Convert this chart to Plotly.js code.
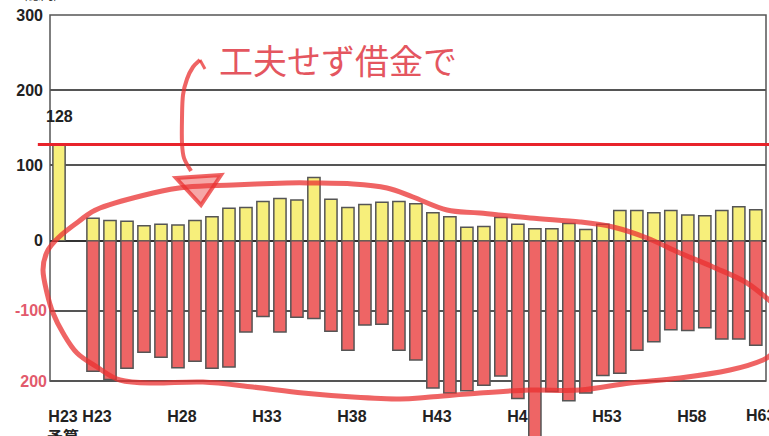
<!DOCTYPE html>
<html>
<head>
<meta charset="utf-8">
<script src="https://cdn.plot.ly/plotly-3.0.1.min.js"></script>
<style>
  html, body { margin: 0; padding: 0; background: #ffffff; }
  #chart { width: 769px; height: 436px; }
</style>
</head>
<body>
<div id="chart"></div>
<script>
// 予算額（H23予算）
const budgetLabel = "H23<br>予算";
const budgetValue = 128;

// 年度
const years = [
  "H23","H24","H25","H26","H27","H28","H29","H30","H31","H32",
  "H33","H34","H35","H36","H37","H38","H39","H40","H41","H42",
  "H43","H44","H45","H46","H47","H48","H49","H50","H51","H52",
  "H53","H54","H55","H56","H57","H58","H59","H60","H61","H62"
];

// プラス側（黄）
const positive = [
  30, 27, 26, 20, 22, 21, 27, 32, 43, 44,
  52, 56, 54, 84, 55, 44, 48, 51, 52, 49,
  37, 32, 18, 19, 31, 22, 16, 16, 23, 15,
  22, 40, 40, 37, 40, 34, 33, 40, 45, 41
];

// マイナス側（赤）
const negative = [
  -186, -198, -182, -159, -166, -181, -172, -182, -180, -130,
  -108, -130, -109, -111, -129, -156, -120, -119, -156, -170,
  -210, -217, -214, -206, -193, -225, -300, -215, -228, -217,
  -192, -189, -156, -144, -127, -128, -124, -140, -140, -149
];

// 目盛りに表示する年度
const labeledYears = ["H23","H28","H33","H38","H43","H48","H53","H58"];
const edgeLabel = "H63";
const unitLabel = "(億円)";
const message = "工夫せず借金で";

// 横位置: 予算は0番、1つ空けて年度を2番から並べる
const budgetSlot = 0;
const yearSlot = i => i + 2;
const yearX = years.map((_, i) => yearSlot(i));

const W = 769, H = 436;
const margin = { l: 50, r: 3, t: 15, b: 0 };
const plotW = W - margin.l - margin.r;
const plotH = H - margin.t - margin.b;
const xRange = [-0.53, 41.6];

// 縦方向の配置（ピクセル）: 0 の線、-200 の線（枠の下端）
const zeroPx = 240.7;
const floorPx = 381;
const toPaperY = py => (H - margin.b - py) / plotH;
const split = toPaperY(zeroPx);
const floorPos = toPaperY(floorPx);
// 下側の軸は -200 が枠の下端に来るように、はみ出す棒の分だけ範囲を広げる
const lowerMin = -200 * (H - margin.b - zeroPx) / (floorPx - zeroPx);

const tickvals = [budgetSlot].concat(labeledYears.map(y => yearSlot(years.indexOf(y))));
const ticktext = [budgetLabel].concat(labeledYears);

const labelFont = { family: "Liberation Sans, Arial, Noto Sans CJK JP, sans-serif", size: 16, color: "#222", weight: "bold" };
const pinkFont = Object.assign({}, labelFont, { color: "#e25a6c" });

// 手書き風の線: ピクセル座標 → paper 座標
const px = (x, y) => [(x - margin.l) / plotW, toPaperY(y)];
function smoothPath(pts, closed) {
  const p = pts.map(q => px(q[0], q[1]));
  const n = p.length;
  const get = i => closed ? p[(i + n) % n] : p[Math.max(0, Math.min(n - 1, i))];
  let d = `M${p[0][0]},${p[0][1]}`;
  const last = closed ? n : n - 1;
  for (let i = 0; i < last; i++) {
    const p0 = get(i - 1), p1 = get(i), p2 = get(i + 1), p3 = get(i + 2);
    const c1 = [p1[0] + (p2[0] - p0[0]) / 6, p1[1] + (p2[1] - p0[1]) / 6];
    const c2 = [p2[0] - (p3[0] - p1[0]) / 6, p2[1] - (p3[1] - p1[1]) / 6];
    d += ` C${c1[0]},${c1[1]} ${c2[0]},${c2[1]} ${p2[0]},${p2[1]}`;
  }
  return closed ? d + " Z" : d;
}
function polyPath(pts) {
  return pts.map((q, i) => {
    const p = px(q[0], q[1]);
    return (i ? "L" : "M") + p[0] + "," + p[1];
  }).join(" ") + " Z";
}

const loopStroke = [
  [776,350],[763,360],[730,370],[680,378],[630,383],[580,390],[530,390],[480,393],
  [430,397],[400,399],[353,397],[303,393],[253,387],[203,382],[153,383],[120,380],
  [97,367],[77,353],[63,333],[53,313],[47,293],[43,270],[47,252],[58,238],[78,222],
  [100,208],[153,193],[187,187],[233,185],[287,183],[313,183],[353,184],[387,188],
  [413,197],[447,210],[480,213],[530,218],[580,222],[613,227],[647,238],[680,253],
  [713,267],[747,283],[776,306]
];
const arrowStroke = [[200,60],[193,67],[187,79],[183,95],[182,118],[182,143],[184,158],[191,171]];
const arrowFlick = [[200,60],[205,69]];
const arrowHead = [[176,178],[221,175],[201,205]];

const ink = "rgba(234,48,48,0.75)";

const traces = [
  {
    type: "bar",
    x: [budgetSlot].concat(yearX),
    y: [budgetValue].concat(positive),
    yaxis: "y",
    width: 0.72,
    marker: { color: "#f7ef7b", line: { color: "#555", width: 1.5 } },
    hoverinfo: "y"
  },
  {
    type: "bar",
    x: yearX,
    y: negative,
    yaxis: "y2",
    width: 0.72,
    marker: { color: "#ee6565", line: { color: "#555", width: 1.5 } },
    hoverinfo: "y"
  }
];

const layout = {
  width: W, height: H,
  margin: margin,
  paper_bgcolor: "#ffffff",
  plot_bgcolor: "#ffffff",
  showlegend: false,
  barmode: "overlay",
  xaxis: {
    range: xRange,
    anchor: "free",
    position: floorPos,
    tickmode: "array",
    tickvals: tickvals,
    ticktext: ticktext,
    tickangle: 0,
    ticks: "",
    showgrid: false,
    zeroline: false,
    showline: false,
    tickfont: labelFont,
    ticklabelstandoff: 24,
    ticklabelshift: 4
  },
  yaxis: {
    domain: [split, 1],
    range: [0, 300],
    anchor: "x",
    tickmode: "array",
    tickvals: [0, 100, 200, 300],
    ticks: "",
    showgrid: true,
    gridcolor: "#555",
    gridwidth: 1.5,
    zeroline: true,
    zerolinecolor: "#333",
    zerolinewidth: 2,
    tickfont: labelFont,
    ticklabelstandoff: 6
  },
  yaxis2: {
    domain: [0, split],
    range: [lowerMin, 0],
    anchor: "x",
    tickmode: "array",
    tickvals: [-200, -100],
    ticktext: ["200", "-100"],
    ticks: "",
    showgrid: true,
    gridcolor: "#555",
    gridwidth: 1.5,
    zeroline: false,
    tickfont: pinkFont,
    ticklabelstandoff: 2
  },
  shapes: [
    { type: "rect", xref: "paper", yref: "paper", x0: 0, x1: 1, y0: floorPos, y1: 1,
      line: { color: "#555", width: 1.5 }, layer: "below" },
    { type: "line", xref: "paper", yref: "y", x0: -0.017, x1: 1.01, y0: budgetValue, y1: budgetValue,
      line: { color: "#e8232b", width: 3 } },
    { type: "path", xref: "paper", yref: "paper", path: smoothPath(loopStroke, false),
      line: { color: ink, width: 5 } },
    { type: "path", xref: "paper", yref: "paper", path: smoothPath(arrowStroke, false),
      line: { color: ink, width: 4 } },
    { type: "path", xref: "paper", yref: "paper", path: smoothPath(arrowFlick, false),
      line: { color: ink, width: 3 } },
    { type: "path", xref: "paper", yref: "paper", path: polyPath(arrowHead),
      fillcolor: "rgba(236,60,60,0.45)", line: { color: ink, width: 4 } }
  ],
  annotations: [
    { xref: "x", yref: "y", x: budgetSlot, y: budgetValue, text: String(budgetValue),
      showarrow: false, yanchor: "bottom", yshift: 17, font: labelFont },
    { xref: "paper", yref: "paper", x: (338 - margin.l) / plotW, y: toPaperY(59),
      text: message, showarrow: false, xanchor: "center", yanchor: "middle",
      font: { family: "Noto Sans CJK JP, sans-serif", size: 34, color: "#e4565f" } },
    { xref: "paper", yref: "paper",
      x: (42 - xRange[0]) / (xRange[1] - xRange[0]), xshift: 4,
      y: floorPos, yanchor: "top", yshift: -24,
      text: edgeLabel, showarrow: false, font: labelFont },
    { xref: "paper", yref: "paper", x: -10 / plotW, y: 1, yanchor: "bottom", yshift: 10,
      xanchor: "center", text: unitLabel, showarrow: false,
      font: { family: "Noto Sans CJK JP, sans-serif", size: 13, color: "#333" } }
  ]
};

Plotly.newPlot("chart", traces, layout, { displayModeBar: false, responsive: false });
</script>
</body>
</html>
